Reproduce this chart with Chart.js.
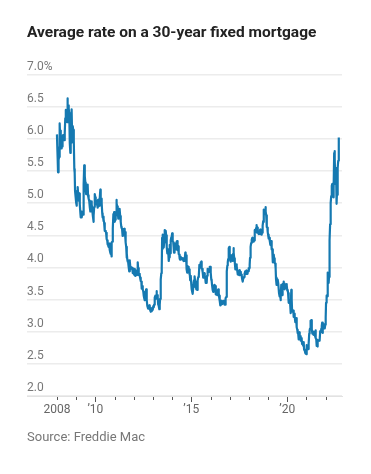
<!DOCTYPE html>
<html>
<head>
<meta charset="utf-8">
<script src="https://cdn.jsdelivr.net/npm/chart.js@4"></script>
<style>
  html, body { margin: 0; padding: 0; background: #fff; }
  #wrap { width: 371px; height: 474px; }
</style>
</head>
<body>
<div id="wrap"><canvas id="mycanvas"></canvas></div>
<script>
// weekly 30-year fixed rate (Freddie Mac), one array per year
var rates2008 = [6.07,5.87,5.69,5.48,5.68,5.67,5.72,6.04,6.24,6.03,6.13,5.87,5.85,5.88,5.88,5.88,6.03,6.06,6.05,6.01,5.98,6.08,6.09,6.32,6.42,6.45,6.35,6.37,6.26,6.63,6.52,6.52,6.52,6.47,6.40,6.35,5.93,5.78,6.09,6.10,5.94,6.46,6.04,6.10,6.20,6.14,6.04,5.97,5.53,5.47,5.19,5.14,5.10];
var rates2009 = [5.01,4.96,5.10,5.10,5.25,5.16,5.04,5.07,5.15,5.03,4.98,4.85,4.78,4.87,4.82,4.78,4.84,4.86,4.82,4.91,5.29,5.59,5.38,5.42,5.32,5.20,5.14,5.20,5.25,5.22,5.29,5.12,5.08,5.07,5.04,5.04,4.94,4.87,4.92,5.00,5.03,4.98,4.91,4.83,4.78,4.71,4.81,4.94,5.05,5.14];
var rates2010 = [5.09,5.06,4.99,4.98,5.01,4.97,4.93,5.05,4.97,4.95,4.96,4.99,5.08,5.21,5.07,5.07,5.00,5.00,4.84,4.78,4.79,4.72,4.75,4.69,4.58,4.57,4.57,4.56,4.54,4.49,4.44,4.42,4.36,4.35,4.32,4.37,4.37,4.27,4.27,4.23,4.21,4.24,4.17,4.39,4.40,4.46,4.61,4.83,4.81,4.86];
var rates2011 = [4.77,4.71,4.74,4.80,4.81,5.05,5.00,4.95,4.87,4.88,4.76,4.81,4.86,4.87,4.91,4.80,4.78,4.71,4.63,4.61,4.60,4.55,4.49,4.50,4.50,4.51,4.60,4.51,4.52,4.55,4.39,4.32,4.15,4.22,4.12,4.09,4.09,4.01,4.01,3.94,4.11,4.10,4.00,3.99,4.00,3.98,3.98,3.99,3.94,3.91,3.95];
var rates2012 = [3.91,3.89,3.88,3.98,3.87,3.87,3.95,3.90,3.88,3.92,4.08,3.99,3.98,3.88,3.90,3.88,3.84,3.83,3.79,3.78,3.67,3.71,3.66,3.66,3.62,3.56,3.53,3.49,3.55,3.59,3.62,3.66,3.55,3.49,3.40,3.40,3.36,3.39,3.37,3.41,3.40,3.34,3.31,3.32,3.34,3.32,3.37,3.35];
var rates2013 = [3.34,3.40,3.38,3.42,3.53,3.53,3.56,3.51,3.52,3.63,3.54,3.57,3.54,3.43,3.41,3.40,3.35,3.42,3.51,3.59,3.81,3.91,3.98,4.46,4.29,4.51,4.37,4.31,4.39,4.40,4.58,4.51,4.57,4.50,4.32,4.32,4.22,4.23,4.28,4.13,4.10,4.16,4.35,4.22,4.29,4.42,4.47,4.48];
var rates2014 = [4.53,4.51,4.41,4.39,4.32,4.23,4.28,4.33,4.37,4.28,4.37,4.32,4.40,4.41,4.34,4.27,4.33,4.29,4.21,4.20,4.14,4.12,4.14,4.17,4.14,4.14,4.15,4.13,4.12,4.14,4.12,4.10,4.10,4.10,4.12,4.23,4.20,4.19,4.12,3.97,3.92,3.98,4.02,4.01,3.99,3.97,3.89,3.93,3.80,3.83,3.87];
var rates2015 = [3.73,3.66,3.63,3.66,3.59,3.69,3.76,3.80,3.75,3.86,3.78,3.69,3.70,3.66,3.67,3.65,3.68,3.80,3.85,3.87,3.87,4.04,4.00,4.02,4.08,4.04,4.09,3.98,3.98,3.94,3.93,3.84,3.89,3.90,3.91,3.86,3.85,3.76,3.82,3.79,3.76,3.87,3.98,3.97,3.95,3.93,3.95,3.97,4.01,4.01];
var rates2016 = [3.97,3.92,3.81,3.79,3.72,3.65,3.65,3.62,3.64,3.68,3.73,3.71,3.71,3.59,3.58,3.59,3.61,3.57,3.58,3.64,3.66,3.60,3.54,3.56,3.48,3.41,3.42,3.48,3.43,3.45,3.43,3.43,3.46,3.44,3.48,3.48,3.42,3.42,3.47,3.52,3.54,3.57,3.94,4.03,4.08,4.13,4.16,4.30,4.32];
var rates2017 = [4.20,4.12,4.09,4.19,4.19,4.17,4.15,4.16,4.10,4.21,4.30,4.23,4.14,4.10,4.08,3.97,4.03,4.02,4.05,4.02,3.95,3.94,3.89,3.91,3.90,3.88,3.96,3.96,3.92,3.93,3.90,3.89,3.86,3.82,3.78,3.78,3.83,3.85,3.85,3.91,3.88,3.94,3.94,3.90,3.95,3.92,3.90,3.93,3.94,3.94,3.99];
var rates2018 = [3.95,3.99,4.04,4.15,4.22,4.32,4.38,4.40,4.43,4.46,4.44,4.45,4.44,4.40,4.42,4.47,4.58,4.55,4.55,4.61,4.66,4.56,4.54,4.62,4.57,4.55,4.52,4.53,4.52,4.54,4.59,4.59,4.53,4.51,4.52,4.54,4.60,4.65,4.72,4.71,4.90,4.85,4.86,4.83,4.94,4.87,4.81,4.75,4.63,4.62,4.55];
var rates2019 = [4.51,4.45,4.45,4.46,4.46,4.41,4.35,4.35,4.41,4.31,4.28,4.28,4.08,4.12,4.17,4.20,4.14,4.10,4.07,4.06,3.99,3.82,3.84,3.73,3.73,3.75,3.81,3.75,3.75,3.60,3.60,3.55,3.58,3.49,3.56,3.73,3.64,3.65,3.57,3.69,3.75,3.78,3.69,3.75,3.66,3.68,3.68,3.73,3.73,3.74,3.72];
var rates2020 = [3.64,3.65,3.60,3.51,3.45,3.47,3.49,3.45,3.29,3.36,3.65,3.50,3.33,3.33,3.31,3.33,3.23,3.26,3.28,3.24,3.15,3.18,3.21,3.13,3.07,3.03,2.98,2.99,2.88,2.96,2.99,2.91,2.93,2.86,2.87,2.90,2.88,2.81,2.80,2.81,2.78,2.84,2.72,2.72,2.71,2.67,2.66,2.67];
var rates2021 = [2.65,2.79,2.77,2.73,2.73,2.73,2.81,2.97,3.02,3.05,3.09,3.17,3.18,3.13,3.04,2.97,2.98,2.96,3.00,2.95,2.99,2.96,2.93,3.02,2.90,2.88,2.78,2.80,2.77,2.87,2.86,2.87,2.87,2.88,2.86,3.01,3.01,2.99,3.05,3.09,3.14,2.98,3.10,3.10,3.11,3.10,3.12,3.05,3.11];
// 2022 runs through mid-September only
var rates2022 = [3.22,3.45,3.56,3.55,3.55,3.69,3.92,3.89,3.76,3.85,4.16,4.42,4.67,4.72,5.00,5.11,5.10,5.27,5.30,5.25,5.10,5.09,5.23,5.78,5.81,5.70,5.30,5.51,5.54,5.30,4.99,5.22,5.13,5.55,5.66,5.89,6.02];

var fullYears = [2008,2009,2010,2011,2012,2013,2014,2015,2016,2017,2018,2019,2020,2021];
var fullYearRates = [rates2008,rates2009,rates2010,rates2011,rates2012,rates2013,rates2014,rates2015,rates2016,rates2017,rates2018,rates2019,rates2020,rates2021];

var yTicks = [2.0,2.5,3.0,3.5,4.0,4.5,5.0,5.5,6.0,6.5,7.0];
var tickYears = [2008,2009,2010,2011,2012,2013,2014,2015,2016,2017,2018,2019,2020,2021,2022];
var majorYears = [2010,2015,2020];
var labelYears = [2008,2010,2015,2020];
var labelTexts = ['2008','\u201910','\u201915','\u201920'];

// turn weekly values into {x: decimal year, y: rate}
var points = [];
for (var i = 0; i < fullYears.length; i++) {
	var r = fullYearRates[i];
	for (var j = 0; j < r.length; j++) {
		points.push({x: fullYears[i] + j / r.length, y: r[j]});
	}
}
for (var k = 0; k < rates2022.length; k++) {
	points.push({x: 2022 + k / 52, y: rates2022[k]});
}

var FONT = 'Roboto';

// small year ticks under the axis, longer ones on '10 '15 '20
var tickMarks = {
	id: 'tickMarks',
	afterDraw: function(chart) {
		var xs = chart.scales.x;
		var ctx = chart.ctx;
		var y0 = chart.chartArea.bottom;
		ctx.save();
		ctx.strokeStyle = '#555';
		ctx.lineWidth = 1;
		tickYears.forEach(function(yr) {
			var px = Math.round(xs.getPixelForValue(yr)) + 0.5;
			var len = majorYears.indexOf(yr) >= 0 ? 5 : 3;
			ctx.beginPath();
			ctx.moveTo(px, y0 + 1);
			ctx.lineTo(px, y0 + 1 + len);
			ctx.stroke();
		});
		ctx.restore();
	}
};

var ctx = document.getElementById('mycanvas');

var lineGraph = new Chart(ctx, {
	type: 'line',
	data: {
		datasets: [{
			label: '30-year fixed',
			data: points,
			borderColor: '#1579b1',
			borderWidth: 2.2,
			borderJoinStyle: 'round',
			pointRadius: 0,
			tension: 0,
			fill: false
		}]
	},
	options: {
		responsive: true,
		maintainAspectRatio: false,
		animation: false,
		layout: { padding: { left: 27, right: 29, top: 0, bottom: 0 } },
		plugins: {
			legend: { display: false },
			tooltip: { enabled: false },
			title: {
				display: true,
				text: 'Average rate on a 30-year fixed mortgage',
				align: 'start',
				color: '#222',
				font: { family: FONT, size: 15.5, weight: 'bold' },
				padding: { top: 24, bottom: 32 }
			},
			subtitle: {
				display: true,
				position: 'bottom',
				text: 'Source: Freddie Mac',
				align: 'start',
				color: '#777',
				font: { family: FONT, size: 13 },
				padding: { top: 6, bottom: 28 }
			}
		},
		scales: {
			x: {
				type: 'linear',
				min: 2006.44,
				max: 2022.85,
				afterBuildTicks: function(scale) {
					scale.ticks = labelYears.map(function(v) { return {value: v}; });
				},
				grid: { display: false, drawTicks: false },
				border: { display: true, color: '#e2e2e2', width: 1 },
				ticks: {
					autoSkip: false,
					maxRotation: 0,
					padding: 7,
					color: '#666',
					font: { family: FONT, size: 12 },
					callback: function(v) {
						var idx = labelYears.indexOf(v);
						return idx >= 0 ? labelTexts[idx] : '';
					}
				}
			},
			y: {
				min: 2,
				max: 7,
				afterBuildTicks: function(scale) {
					scale.ticks = yTicks.map(function(v) { return {value: v}; });
				},
				grid: { color: '#ececec', lineWidth: 1.5, drawTicks: false },
				border: { display: false },
				ticks: {
					mirror: true,
					padding: 0,
					labelOffset: -8,
					color: '#777',
					font: { family: FONT, size: 12 },
					callback: function(v) {
						return v === 7 ? '7.0%' : v.toFixed(1);
					}
				}
			}
		}
	},
	plugins: [tickMarks]
});
</script>
</body>
</html>
